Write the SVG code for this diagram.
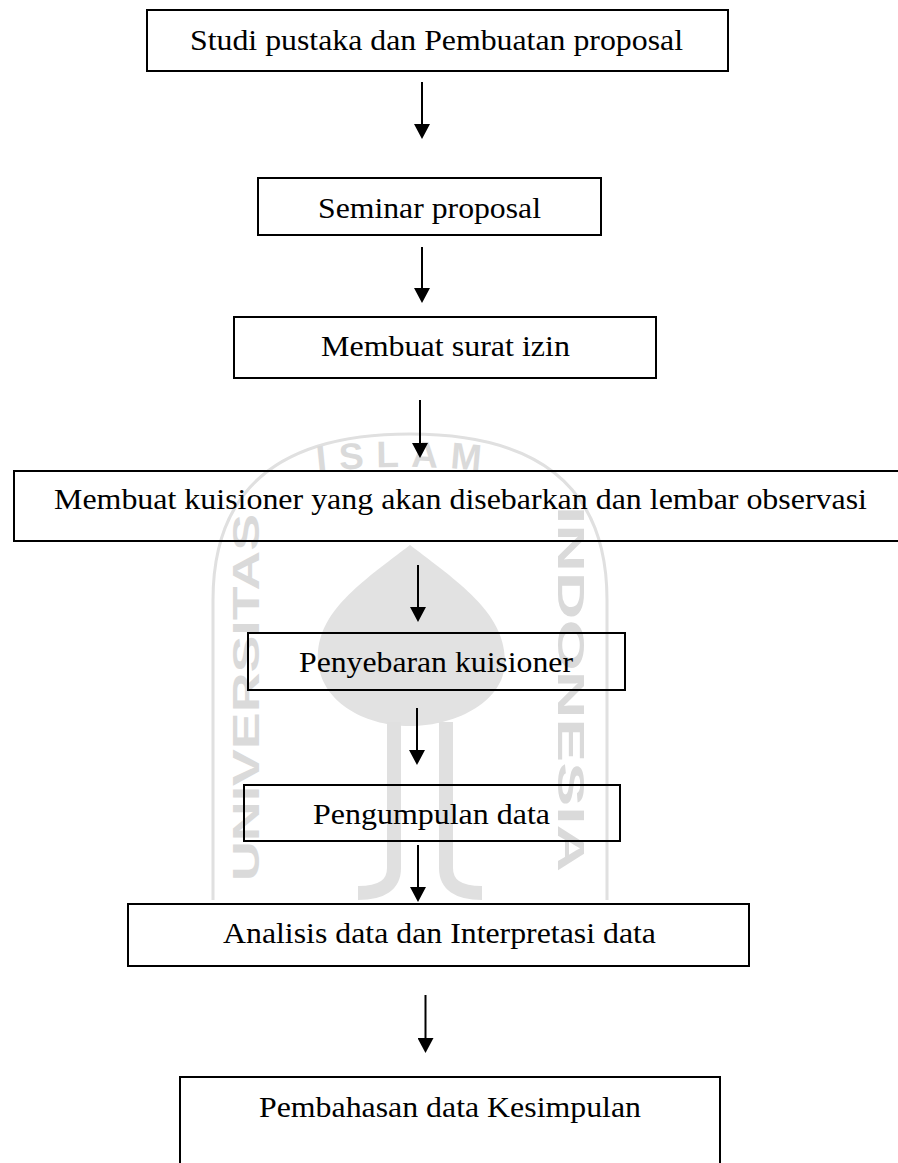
<svg xmlns="http://www.w3.org/2000/svg" width="898" height="1163" viewBox="0 0 898 1163">
<style>
.box{fill:none;stroke:#000;stroke-width:2}
.lbl{font-family:"Liberation Serif","Times New Roman",serif;font-size:30px;fill:#000}
.con{stroke:#000;stroke-width:2;fill:none;marker-end:url(#ah)}
.wm{font-family:"Liberation Sans",Arial,sans-serif;font-weight:bold;font-size:37px;fill:#dadada}
.wms{fill:none;stroke:#e0e0e0}
</style>
<defs>
<marker id="ah" markerUnits="userSpaceOnUse" markerWidth="15" markerHeight="16" viewBox="0 0 15 16" refX="7" refY="8" orient="auto">
<path d="M0,0 L15,8 L0,16 Z" fill="#000"/>
</marker>
<path id="arcIslam" d="M 290 476 Q 405 458 520 476"/>
</defs>
<rect width="898" height="1163" fill="#fff"/>
<g id="watermark">
<path class="wms" stroke-width="3" d="M 213 900 V 600 Q 213 434 410 434 Q 607 434 607 600 V 900"/>
<path d="M410,545 C 362,582 316,612 318,660 C 320,700 362,726 410,726 C 458,726 506,700 505,660 C 504,612 458,582 410,545 Z" fill="#e2e2e2"/>
<path class="wms" stroke-width="14" d="M 394 722 V 868 Q 394 893 358 893"/>
<path class="wms" stroke-width="14" d="M 446 722 V 868 Q 446 893 482 893"/>
<text class="wm" transform="translate(259,881) rotate(-90)" textLength="367" lengthAdjust="spacingAndGlyphs">UNIVERSITAS</text>
<text class="wm" transform="translate(558,506) rotate(90)" textLength="366" lengthAdjust="spacingAndGlyphs">INDONESIA</text>
<text class="wm" font-size="32" letter-spacing="12"><textPath href="#arcIslam" startOffset="50%" text-anchor="middle">ISLAM</textPath></text>
</g>
<g id="connectors">
<path class="con" d="M422,82 V131"/>
<path class="con" d="M422,247 V295"/>
<path class="con" d="M420,400 V450"/>
<path class="con" d="M418,565 V614"/>
<path class="con" d="M417,708 V757"/>
<path class="con" d="M418,845 V894"/>
<path class="con" d="M425.5,995 V1045"/>
</g>
<g id="n1"><rect class="box" x="147" y="10" width="581" height="61"/><text class="lbl" x="190" y="50" textLength="493" lengthAdjust="spacingAndGlyphs">Studi pustaka dan Pembuatan proposal</text></g>
<g id="n2"><rect class="box" x="258" y="178" width="343" height="57"/><text class="lbl" x="318" y="218" textLength="223" lengthAdjust="spacingAndGlyphs">Seminar proposal</text></g>
<g id="n3"><rect class="box" x="234" y="317" width="422" height="61"/><text class="lbl" x="321" y="356" textLength="249" lengthAdjust="spacingAndGlyphs">Membuat surat izin</text></g>
<g id="n4"><rect class="box" x="14" y="471" width="900" height="70"/><text class="lbl" x="54" y="509" textLength="813" lengthAdjust="spacingAndGlyphs">Membuat kuisioner yang akan disebarkan dan lembar observasi</text></g>
<g id="n5"><rect class="box" x="248" y="633" width="377" height="57"/><text class="lbl" x="299" y="672" textLength="274" lengthAdjust="spacingAndGlyphs">Penyebaran kuisioner</text></g>
<g id="n6"><rect class="box" x="244" y="785" width="376" height="56"/><text class="lbl" x="313" y="824" textLength="237" lengthAdjust="spacingAndGlyphs">Pengumpulan data</text></g>
<g id="n7"><rect class="box" x="128" y="904" width="621" height="62"/><text class="lbl" x="223" y="943" textLength="433" lengthAdjust="spacingAndGlyphs">Analisis data dan Interpretasi data</text></g>
<g id="n8"><rect class="box" x="180" y="1077" width="540" height="110"/><text class="lbl" x="259" y="1117" textLength="382" lengthAdjust="spacingAndGlyphs">Pembahasan data Kesimpulan</text></g>
</svg>
